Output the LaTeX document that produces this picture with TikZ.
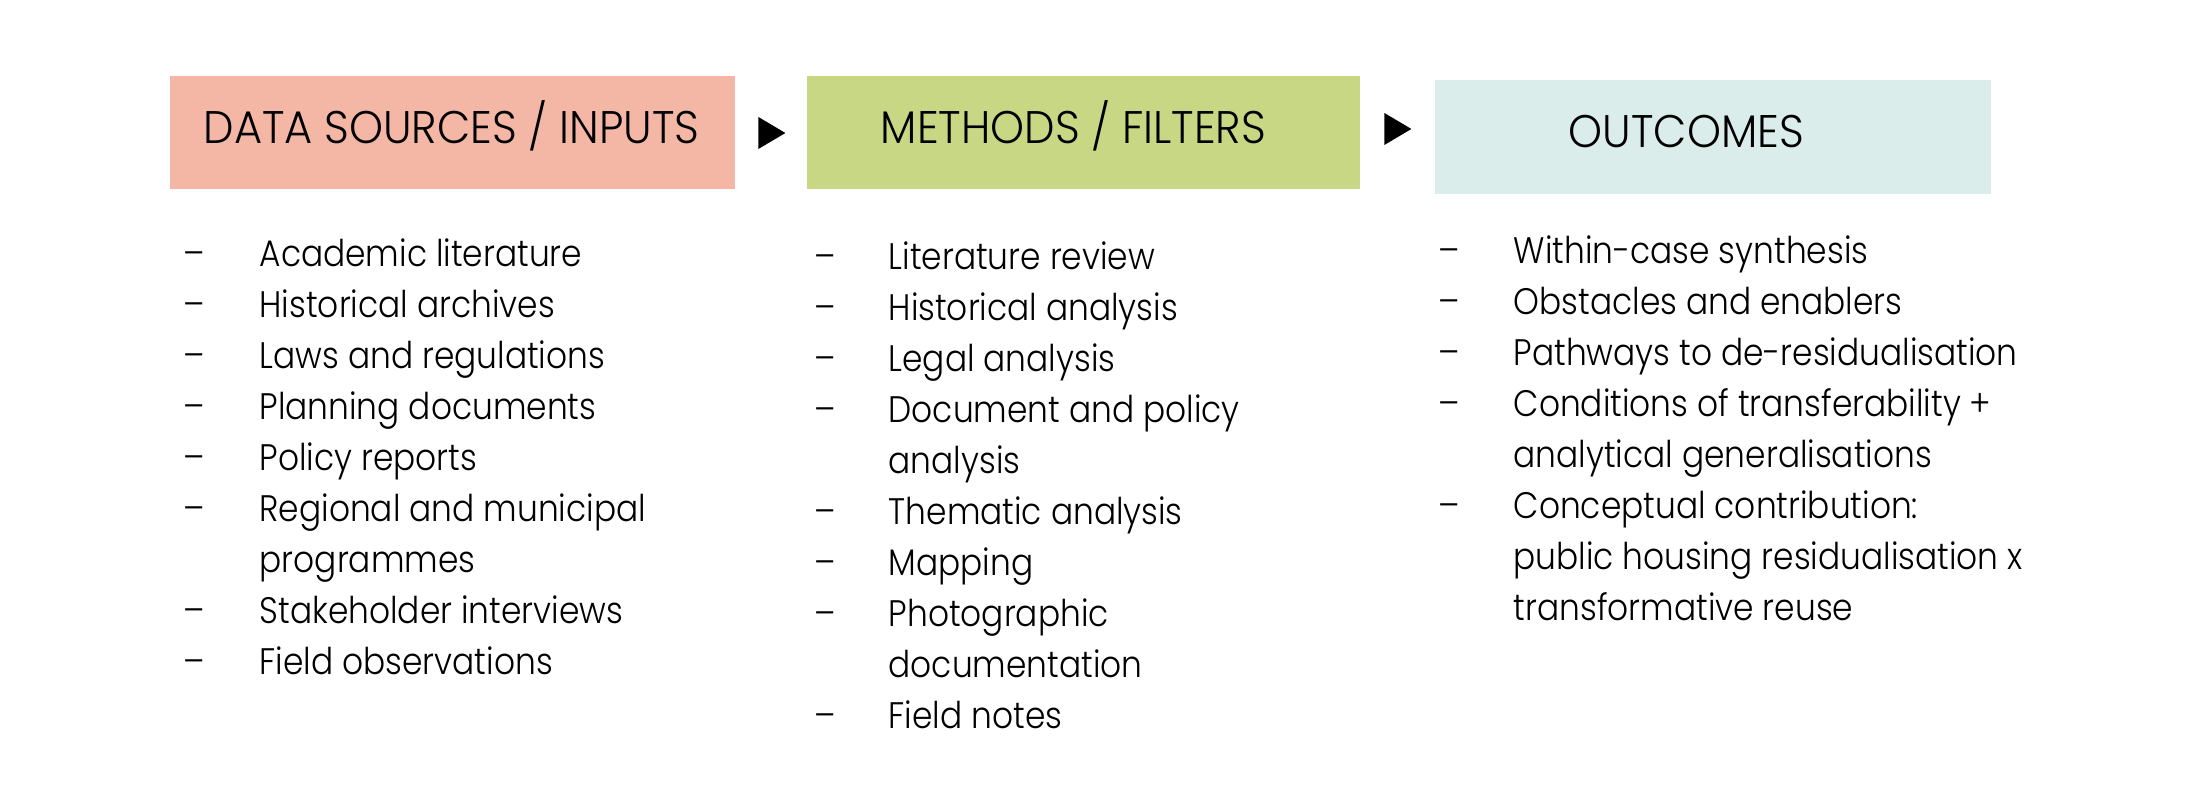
\documentclass[tikz,border=0pt]{standalone}
\usepackage{fontspec}
\IfFontExistsTF{Poppins Light}{%
  \setmainfont{Poppins Light}[FakeStretch=0.89]
  \newfontfamily\titlefont{Poppins Light}[FakeStretch=0.945]}{%
  \setmainfont{Poppins}[FakeStretch=0.89]
  \newfontfamily\titlefont{Poppins}[FakeStretch=0.945]}
\usetikzlibrary{shapes.geometric,positioning}
\definecolor{inputpink}{RGB}{245,183,165}
\definecolor{methodgreen}{RGB}{200,215,132}
\definecolor{outcomeblue}{RGB}{218,237,235}

\begin{document}
\begin{tikzpicture}[
    box/.style={rectangle, inner sep=0pt, minimum height=1.13cm},
    boxtitle/.style={inner sep=0pt, anchor=base west, font=\titlefont\fontsize{13}{15}\selectfont},
    itemlist/.style={inner sep=0pt, anchor=base west, font=\fontsize{10.5}{14.5}\selectfont},
    marker/.style={fill=black, isosceles triangle, isosceles triangle stretches, inner sep=0pt, minimum width=0.32cm, minimum height=0.27cm}
  ]
    \useasboundingbox (0,0) rectangle (21.87,-7.98);

    \node[box, fill=inputpink, minimum width=5.65cm] (srcbox) at (4.525,-1.325) {};
    \node[box, fill=methodgreen, minimum width=5.53cm] (methbox) at (10.835,-1.325) {};
    \node[box, fill=outcomeblue, minimum width=5.56cm, minimum height=1.14cm] (outbox) at (17.13,-1.37) {};

    \node[boxtitle] (srctitle) at (2.03,-1.44) {DATA SOURCES / INPUTS};
    \node[boxtitle] (methtitle) at (8.80,-1.44) {METHODS / FILTERS};
    \node[boxtitle] (outtitle) at (15.68,-1.48) {OUTCOMES};

    % flow markers
    \node[marker] (flowa) at (7.675,-1.33) {};
    \node[marker] (flowb) at (13.935,-1.29) {};

    % item lists
    \node[itemlist] (srclist) at (1.83,-2.67) {\begin{tabular}[t]{@{}p{0.76cm}@{}l@{}}
      -- & Academic literature\\
      -- & Historical archives\\
      -- & Laws and regulations\\
      -- & Planning documents\\
      -- & Policy reports\\
      -- & Regional and municipal\\
         & programmes\\
      -- & Stakeholder interviews\\
      -- & Field observations
    \end{tabular}};
    \node[itemlist] (methlist) at (8.14,-2.70) {\begin{tabular}[t]{@{}p{0.74cm}@{}l@{}}
      -- & Literature review\\
      -- & Historical analysis\\
      -- & Legal analysis\\
      -- & Document and policy\\
         & analysis\\
      -- & Thematic analysis\\
      -- & Mapping\\
      -- & Photographic\\
         & documentation\\
      -- & Field notes
    \end{tabular}};
    \node[itemlist] (outlist) at (14.38,-2.64) {\begin{tabular}[t]{@{}p{0.75cm}@{}l@{}}
      -- & Within-case synthesis\\
      -- & Obstacles and enablers\\
      -- & Pathways to de-residualisation\\
      -- & Conditions of transferability +\\
         & analytical generalisations\\
      -- & Conceptual contribution:\\
         & public housing residualisation x\\
         & transformative reuse
    \end{tabular}};
\end{tikzpicture}
\end{document}
